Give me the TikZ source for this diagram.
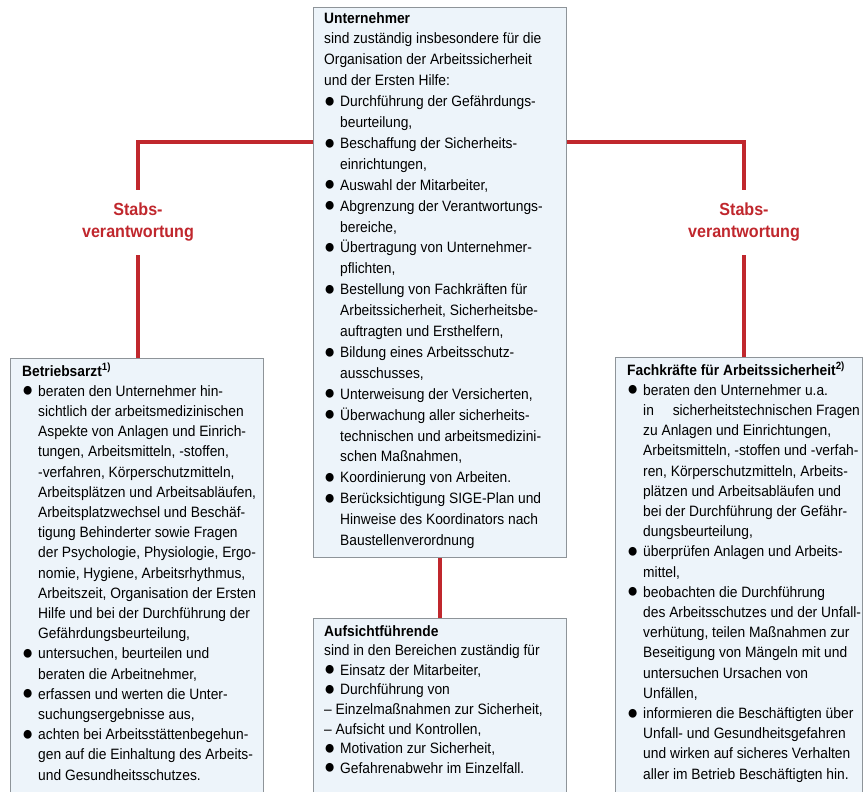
\documentclass[tikz,border=0pt]{standalone}
\usepackage{fontspec}
\setmainfont{Liberation Sans}[FakeStretch=0.92]
\usepackage{tikz}
\usetikzlibrary{positioning, backgrounds}

\definecolor{stabrot}{HTML}{C0272D}
\definecolor{kastenblau}{HTML}{EDF4FA}
\definecolor{kastenrand}{HTML}{8E9499}

\newcommand{\punkt}{\makebox[16pt][l]{\raisebox{-0.6pt}{\scalebox{1.35}{●}}}}
\newcommand{\einr}{\hspace*{16pt}}

\begin{document}
\begin{tikzpicture}[x=1pt, y=1pt,
	    kasten/.style={draw=kastenrand, line width=1.2pt, fill=kastenblau,
	      anchor=north west, inner sep=0pt, minimum width=253pt},
	    inhalt/.style={anchor=north west, inner sep=0pt, align=left,
	      font=\fontsize{15}{20.2}\selectfont},
	    stab/.style={draw=stabrot, line width=4pt},
	    stabtext/.style={text=stabrot, align=center, inner sep=0pt, minimum height=65pt,
	      font=\fontsize{17.5}{22}\selectfont\bfseries}
	  ]
	  \useasboundingbox (0,0) rectangle (865,792);
	  \clip (0,0) rectangle (865,792);

	  % the four boxes (left, right and bottom run off the page)
	  \node[kasten, minimum height=550pt] (unt) at (313,785) {};
	  \node[kasten, minimum height=450pt] (arzt) at (10,434) {};
	  \node[kasten, minimum height=450pt, minimum width=247pt] (fachkraft) at (615,435) {};
	  \node[kasten, minimum height=190pt] (auf) at (313,174) {};

	  % Unternehmer
	  \node[inhalt, font=\fontsize{15}{20.9}\selectfont] (unttext)
	    at ([shift={(11,-5)}]unt.north west) {%
	    \textbf{Unternehmer}\\
	    sind zuständig insbesondere für die\\
	    Organisation der Arbeitssicherheit\\
	    und der Ersten Hilfe:\\
	    \punkt Durchführung der Gefährdungs-\\
	    \einr beurteilung,\\
	    \punkt Beschaffung der Sicherheits-\\
	    \einr einrichtungen,\\
	    \punkt Auswahl der Mitarbeiter,\\
	    \punkt Abgrenzung der Verantwortungs-\\
	    \einr bereiche,\\
	    \punkt Übertragung von Unternehmer-\\
	    \einr pflichten,\\
	    \punkt Bestellung von Fachkräften für\\
	    \einr Arbeitssicherheit, Sicherheitsbe-\\
	    \einr auftragten und Ersthelfern,\\
	    \punkt Bildung eines Arbeitsschutz-\\
	    \einr ausschusses,\\
	    \punkt Unterweisung der Versicherten,\\
	    \punkt Überwachung aller sicherheits-\\
	    \einr technischen und arbeitsmedizini-\\
	    \einr schen Maßnahmen,\\
	    \punkt Koordinierung von Arbeiten.\\
	    \punkt Berücksichtigung SIGE-Plan und\\
	    \einr Hinweise des Koordinators nach\\
	    \einr Baustellenverordnung};

	  % Betriebsarzt
	  \node[inhalt] (arzttext) at ([shift={(12,-5)}]arzt.north west) {%
	    \textbf{Betriebsarzt\textsuperscript{1)}}\\
	    \punkt beraten den Unternehmer hin-\\
	    \einr sichtlich der arbeitsmedizinischen\\
	    \einr Aspekte von Anlagen und Einrich-\\
	    \einr tungen, Arbeitsmitteln, -stoffen,\\
	    \einr -verfahren, Körperschutzmitteln,\\
	    \einr Arbeitsplätzen und Arbeitsabläufen,\\
	    \einr Arbeitsplatzwechsel und Beschäf-\\
	    \einr tigung Behinderter sowie Fragen\\
	    \einr der Psychologie, Physiologie, Ergo-\\
	    \einr nomie, Hygiene, Arbeitsrhythmus,\\
	    \einr Arbeitszeit, Organisation der Ersten\\
	    \einr Hilfe und bei der Durchführung der\\
	    \einr Gefährdungsbeurteilung,\\
	    \punkt untersuchen, beurteilen und\\
	    \einr beraten die Arbeitnehmer,\\
	    \punkt erfassen und werten die Unter-\\
	    \einr suchungsergebnisse aus,\\
	    \punkt achten bei Arbeitsstättenbegehun-\\
	    \einr gen auf die Einhaltung des Arbeits-\\
	    \einr und Gesundheitsschutzes.};

	  % Fachkraefte fuer Arbeitssicherheit
	  \node[inhalt] (fachtext) at ([shift={(12,-5)}]fachkraft.north west) {%
	    \textbf{Fachkräfte für Arbeitssicherheit\textsuperscript{2)}}\\
	    \punkt beraten den Unternehmer u.a.\\
	    \einr in\hspace{1em} sicherheitstechnischen Fragen\\
	    \einr zu Anlagen und Einrichtungen,\\
	    \einr Arbeitsmitteln, -stoffen und -verfah-\\
	    \einr ren, Körperschutzmitteln, Arbeits-\\
	    \einr plätzen und Arbeitsabläufen und\\
	    \einr bei der Durchführung der Gefähr-\\
	    \einr dungsbeurteilung,\\
	    \punkt überprüfen Anlagen und Arbeits-\\
	    \einr mittel,\\
	    \punkt beobachten die Durchführung\\
	    \einr des Arbeitsschutzes und der Unfall-\\
	    \einr verhütung, teilen Maßnahmen zur\\
	    \einr Beseitigung von Mängeln mit und\\
	    \einr untersuchen Ursachen von\\
	    \einr Unfällen,\\
	    \punkt informieren die Beschäftigten über\\
	    \einr Unfall- und Gesundheitsgefahren\\
	    \einr und wirken auf sicheres Verhalten\\
	    \einr aller im Betrieb Beschäftigten hin.};

	  % Aufsichtfuehrende
	  \node[inhalt, font=\fontsize{15}{19.6}\selectfont] (auftext)
	    at ([shift={(11,-7)}]auf.north west) {%
	    \textbf{Aufsichtführende}\\
	    sind in den Bereichen zuständig für\\
	    \punkt Einsatz der Mitarbeiter,\\
	    \punkt Durchführung von\\
	    – Einzelmaßnahmen zur Sicherheit,\\
	    – Aufsicht und Kontrollen,\\
	    \punkt Motivation zur Sicherheit,\\
	    \punkt Gefahrenabwehr im Einzelfall.};

	  \node[stabtext] (stabl) at (138,569.5) {Stabs-\\verantwortung};
	  \node[stabtext] (stabr) at (744,569.5) {Stabs-\\verantwortung};

	  \draw[stab] (unt.north west |- 0,650) -| (stabl.north);
	  \draw[stab] (stabl.south) -- (stabl.south |- arzt.north);
	  \draw[stab] (unt.north east |- 0,650) -| (stabr.north);
	  \draw[stab] (stabr.south) -- (stabr.south |- fachkraft.north);
	  \draw[stab] (unt.south) -- (auf.north);
	\end{tikzpicture}
\end{document}
